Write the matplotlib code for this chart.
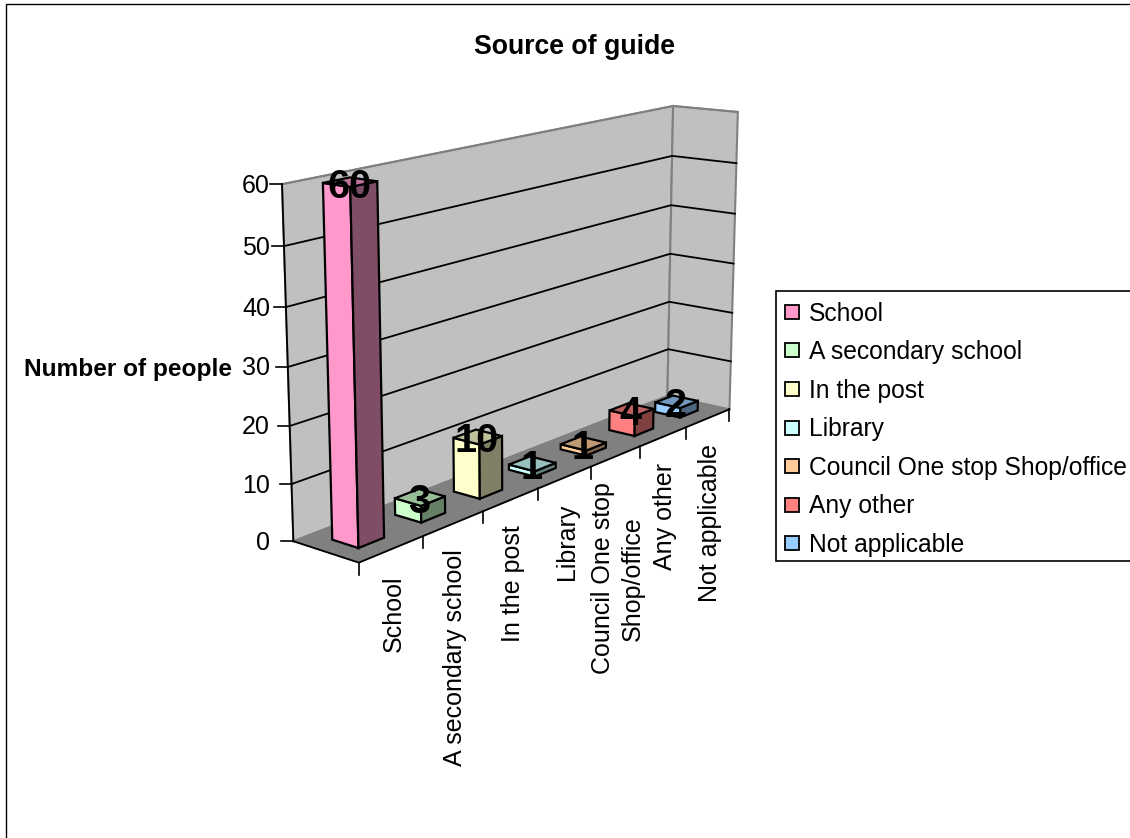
"""
Source of guide, old spreadsheet style 3D column chart
"""

import numpy as np
import matplotlib
matplotlib.use("Agg")
import matplotlib.pyplot as plt
from matplotlib.patches import Polygon, Rectangle

plt.rcParams['font.family'] = ['Liberation Sans', 'DejaVu Sans']

CATEGORIES = ["School", "A secondary school", "In the post", "Library",
              "Council One stop Shop/office", "Any other", "Not applicable"]
TICK_LABELS = ["School", "A secondary school", "In the post", "Library",
               "Council One stop\nShop/office", "Any other", "Not applicable"]
VALUES = [60, 3, 10, 1, 1, 4, 2]
COLOURS = ["#ff99cc", "#ccffcc", "#ffffcc", "#ccffff", "#ffcc99", "#ff8080", "#99ccff"]
Y_TICKS = [0, 10, 20, 30, 40, 50, 60]

N = len(VALUES)
Y_MAX = Y_TICKS[-1]

# Reference points of the box: (category, depth, value) -> pixel
BOX_WORLD = [(0, 0, 0), (0, 1, 0), (N, 1, 0), (N, 0, 0),
             (0, 1, Y_MAX), (N, 1, Y_MAX), (N, 0, Y_MAX),
             (0, 1, 30), (N, 1, 30)]
BOX_PIXEL = [(358, 563), (294, 541), (667, 397), (730, 408),
             (282, 184), (673, 105), (738, 113),
             (288, 367), (670, 254)]


def fit_camera(world, pixel):
    """Least squares fit of the 3x4 projection matrix"""
    rows, rhs = [], []
    for (x, y, z), (px, py) in zip(world, pixel):
        rows.append([x, y, z, 1, 0, 0, 0, 0, -px * x, -px * y, -px * z])
        rows.append([0, 0, 0, 0, x, y, z, 1, -py * x, -py * y, -py * z])
        rhs += [px, py]
    params = np.linalg.lstsq(np.array(rows, float), np.array(rhs, float), rcond=None)[0]
    return np.append(params, 1.0).reshape(3, 4)


CAMERA = fit_camera(BOX_WORLD, BOX_PIXEL)


def project(u, d, v):
    p = CAMERA @ np.array([u, d, v, 1.0])
    return p[0] / p[2], p[1] / p[2]


fig = plt.figure(figsize=(11.3, 8.38), dpi=100)
ax = fig.add_axes([0, 0, 1, 1])
ax.set_xlim(0, 1130)
ax.set_ylim(838, 0)
ax.axis("off")

# Outer chart border, runs off the right and bottom of the picture
ax.add_patch(Rectangle((6, 4), 1200, 900, fc="white", ec="black", lw=1.0))

# Walls and floor
back = [project(0, 1, 0), project(N, 1, 0), project(N, 1, Y_MAX), project(0, 1, Y_MAX)]
side = [project(N, 1, 0), project(N, 0, 0), project(N, 0, Y_MAX), project(N, 1, Y_MAX)]
floor = [project(0, 0, 0), project(N, 0, 0), project(N, 1, 0), project(0, 1, 0)]
ax.add_patch(Polygon(back, fc="#c0c0c0", ec="#808080", lw=1.5))
ax.add_patch(Polygon(side, fc="#c0c0c0", ec="#808080", lw=1.5))
ax.add_patch(Polygon(floor, fc="#808080", ec="#808080", lw=1))

# Gridlines and y axis
for tick in Y_TICKS[1:]:
    pts = [project(0, 1, tick), project(N, 1, tick), project(N, 0, tick)]
    color = "#808080" if tick == Y_MAX else "black"
    ax.plot(*zip(*pts), color=color, lw=1.3, solid_joinstyle="miter")
for tick in Y_TICKS:
    x, y = project(0, 1, tick)
    ax.plot([x - 12, x], [y, y], color="black", lw=1.2)
    ax.text(270, y + 1.5, str(tick), ha="right", va="center", fontsize=18)
ax.plot(*zip(project(0, 1, 0), project(0, 1, Y_MAX)), color="black", lw=1.3)

# Floor edges and category ticks
ax.plot(*zip(project(0, 1, 0), project(0, 0, 0), project(N, 0, 0)), color="black", lw=1.3)
for i in range(N + 1):
    x, y = project(i, 0, 0)
    ax.plot([x, x], [y, y + 12], color="black", lw=1.2)

# Columns, the bar takes 0.3 to 0.7 of its slot in both directions
for i, (value, colour) in enumerate(zip(VALUES, COLOURS)):
    rgb = np.array(matplotlib.colors.to_rgb(colour))
    u0, u1 = i + 0.3, i + 0.7
    d0, d1 = 0.3, 0.7
    left = [project(u0, d1, 0), project(u0, d0, 0), project(u0, d0, value), project(u0, d1, value)]
    right = [project(u0, d0, 0), project(u1, d0, 0), project(u1, d0, value), project(u0, d0, value)]
    top = [project(u0, d0, value), project(u1, d0, value), project(u1, d1, value), project(u0, d1, value)]
    ax.add_patch(Polygon(left, fc=rgb, ec="black", lw=1.6, zorder=3))
    ax.add_patch(Polygon(right, fc=rgb * 0.5, ec="black", lw=1.6, zorder=3))
    ax.add_patch(Polygon(top, fc=rgb * 0.75, ec="black", lw=1.6, zorder=3))

# Data labels sit over everything
for i, value in enumerate(VALUES):
    x, y = project(i + 0.5, 0.5, value)
    ax.text(x - 1, y + 4.5, str(value), ha="center", va="center", fontsize=28.5,
            fontweight="bold", zorder=4)

# Category labels
for i, label in enumerate(TICK_LABELS):
    x, y = project(i + 0.5, 0, 0)
    ax.text(x + 2, y + 26, label, rotation=90, ha="center", va="top", fontsize=18,
            multialignment="center", linespacing=1.3)

ax.text(574, 47.5, "Source of guide", ha="center", va="center", fontsize=19.2, fontweight="bold")
ax.text(127.5, 369, "Number of people", ha="center", va="center", fontsize=17.6, fontweight="bold")

# Legend box, cut by the right edge of the picture
ax.add_patch(Rectangle((776, 291), 500, 270, fc="white", ec="black", lw=1.2))
for i, (name, colour) in enumerate(zip(CATEGORIES, COLOURS)):
    y = 312 + i * 38.5
    ax.add_patch(Rectangle((785, y - 7), 14, 14, fc=colour, ec="black", lw=1.3))
    ax.text(809, y + 1.5, name, ha="left", va="center", fontsize=17.7)

fig.savefig("out.png", dpi=100)
